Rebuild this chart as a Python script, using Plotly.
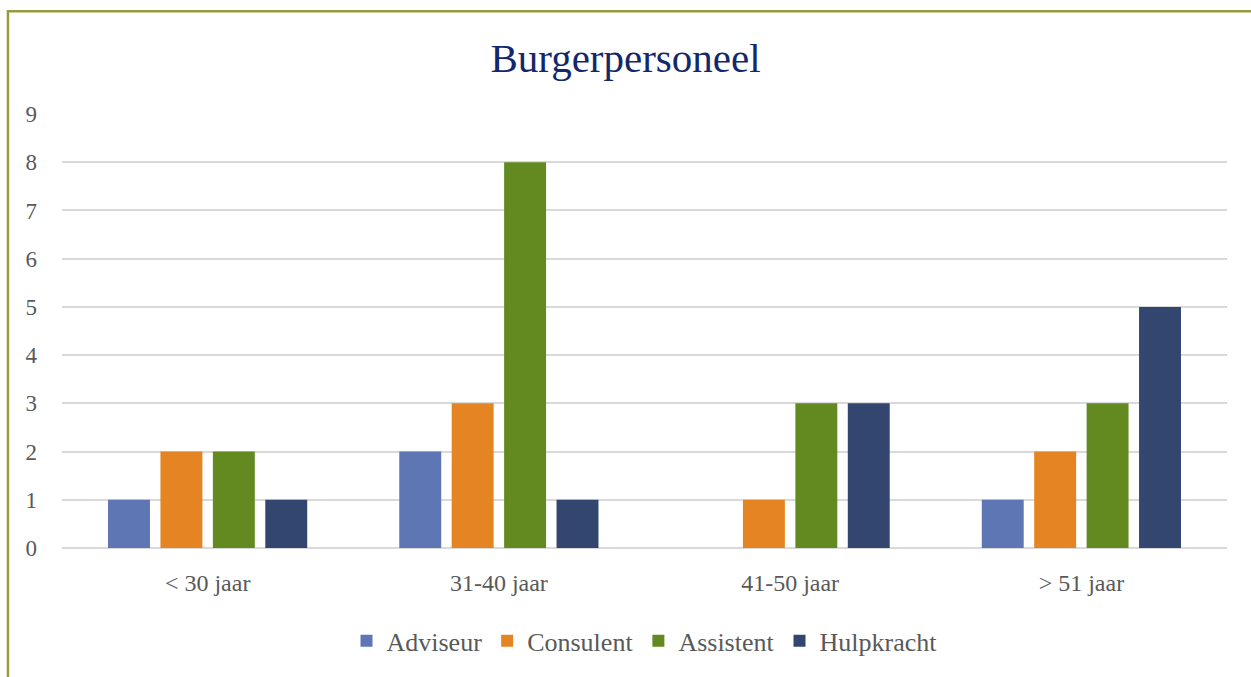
import plotly.graph_objects as go

categories = ["< 30 jaar", "31-40 jaar", "41-50 jaar", "> 51 jaar"]
adviseur = [1, 2, 0, 1]
consulent = [2, 3, 1, 2]
assistent = [2, 8, 3, 3]
hulpkracht = [1, 1, 3, 5]

series = [
    ("Adviseur", adviseur, "#5F76B5"),
    ("Consulent", consulent, "#E58423"),
    ("Assistent", assistent, "#638A21"),
    ("Hulpkracht", hulpkracht, "#33466F"),
]

FONT = "Liberation Serif"

fig = go.Figure()
for name, vals, color in series:
    fig.add_trace(go.Bar(
        x=categories, y=vals, name=name,
        marker=dict(color=color, line=dict(width=0)),
    ))

fig.update_layout(
    width=1251, height=677,
    paper_bgcolor="white", plot_bgcolor="white",
    barmode="group", bargap=0.28, bargroupgap=0.2,
    margin=dict(l=62, r=24, t=114, b=125),
    title=dict(text="Burgerpersoneel", x=0.5, xanchor="center", y=0.915, yanchor="middle",
               font=dict(family=FONT, size=41, color="#13286A")),
    font=dict(family=FONT, color="#595959"),
    xaxis=dict(showgrid=False, showline=False, ticks="", tickfont=dict(size=24, color="#595959"),
               ticklabelstandoff=18),
    yaxis=dict(range=[0, 9], dtick=1, showgrid=True, gridcolor="#D9D9D9", gridwidth=1.5,
               zeroline=True, zerolinecolor="#D9D9D9", zerolinewidth=1.5,
               showline=False, ticks="", tickfont=dict(size=23, color="#595959"),
               ticklabelstandoff=24),
    legend=dict(orientation="h", x=0.5, xanchor="center", y=-0.16, yanchor="top",
                font=dict(size=26, color="#595959"), itemwidth=30, traceorder="normal"),
    shapes=[dict(type="rect", xref="paper", yref="paper", x0=-0.0464, x1=1.06,
                 y0=-0.4, y1=1.237, line=dict(color="#9A9A3C", width=2.5),
                 fillcolor="rgba(0,0,0,0)", layer="below")],
)

fig.write_html("out.html", config={"displayModeBar": False},
               post_script="document.body.style.margin='0';")
